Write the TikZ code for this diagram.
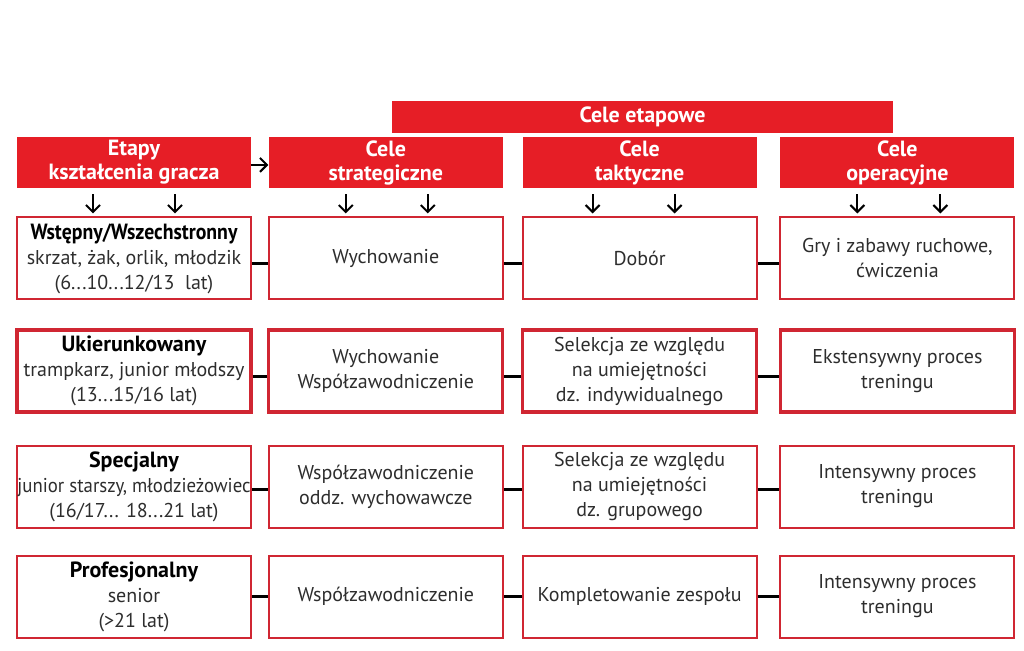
\documentclass[tikz,border=0pt]{standalone}
\usepackage{fontspec}
\setmainfont{PT Sans}
\usepackage{xcolor}
\usepackage{tikz}
\usetikzlibrary{arrows.meta, positioning}

\definecolor{celered}{RGB}{230,30,38}
\definecolor{celeframe}{RGB}{208,38,50}
\definecolor{celetext}{RGB}{45,45,45}
\newcommand{\stagename}[1]{\textcolor{black}{\fontsize{11}{12.5}\selectfont\bfseries #1}}

\begin{document}
\begin{tikzpicture}[x=0.5pt, y=-0.5pt, >={Straight Barb[length=3.5pt,width=7pt,line width=1pt]}]
    \tikzstyle{head} = [rectangle, fill=celered, text=white, font=\bfseries\fontsize{11}{12}\selectfont, minimum width=117pt, minimum height=25.5pt, align=center, inner sep=0pt]
    \tikzstyle{stage} = [rectangle, draw=celeframe, line width=1pt, text=celetext, font=\fontsize{10}{12.5}\selectfont, minimum width=117pt, minimum height=41pt, align=center, inner sep=0pt]
    \tikzstyle{link} = [line width=1.4pt]
    \useasboundingbox (0,0) rectangle (1024,650);

    % Headers
    \node (etapowe) [head, minimum width=250.5pt, minimum height=16pt] at (642.5,117) {Cele etapowe};
    \node (etapy) [head] at (134,162.5) {Etapy\\kształcenia gracza};
    \node (strat) [head, right=8.5pt of etapy] {Cele\\strategiczne};
    \node (takt) [head, right=9.5pt of strat] {Cele\\taktyczne};
    \node (oper) [head, right=11.5pt of takt] {Cele\\operacyjne};

    % Row 1
    \node (wstep) [stage, below=14pt of etapy] {\stagename{\scalebox{0.9}[1]{Wstępny/Wszechstronny}}\\skrzat, żak, orlik, młodzik\\(6...10...12/13\ \ lat)};
    \node (wych) [stage, below=14pt of strat] {Wychowanie};
    \node (dobor) [stage, below=14pt of takt] {Dobór};
    \node (gry) [stage, below=14pt of oper] {Gry i zabawy ruchowe,\\ćwiczenia};

    % Row 2 (heavier frames)
    \node (ukier) [stage, line width=1.6pt, below=14pt of wstep] {\stagename{Ukierunkowany}\\trampkarz, junior młodszy\\(13...15/16 lat)};
    \node (wychwsp) [stage, line width=1.6pt, below=14pt of wych] {Wychowanie\\Współzawodniczenie};
    \node (selind) [stage, line width=1.6pt, below=14pt of dobor] {Selekcja ze względu\\na umiejętności\\dz. indywidualnego};
    \node (ekst) [stage, line width=1.6pt, below=14pt of gry] {Ekstensywny proces\\treningu};

    % Row 3
    \node (spec) [stage, below=15.5pt of ukier] {\stagename{Specjalny}\\\scalebox{0.94}[1]{junior starszy, młodzieżowiec}\\(16/17... 18...21 lat)};
    \node (wspoddz) [stage, below=15.5pt of wychwsp] {Współzawodniczenie\\oddz. wychowawcze};
    \node (selgrup) [stage, below=15.5pt of selind] {Selekcja ze względu\\na umiejętności\\dz. grupowego};
    \node (intens) [stage, below=15.5pt of ekst] {Intensywny proces\\treningu};

    % Row 4
    \node (prof) [stage, below=13pt of spec] {\stagename{Profesjonalny}\\senior\\(>21 lat)};
    \node (wsp) [stage, below=13pt of wspoddz] {Współzawodniczenie};
    \node (kompl) [stage, below=13pt of selgrup] {Kompletowanie zespołu};
    \node (intsen) [stage, below=13pt of intens] {Intensywny proces\\treningu};

    % Arrows from the headers
    \draw[->, line width=1pt] ([yshift=-1.2pt]etapy.east) -- ([yshift=-1.2pt]strat.west);
    \foreach \h/\b/\l/\r in {etapy/wstep/-20.5/20.5, strat/wych/-20/21, takt/dobor/-23.5/17.5, oper/gry/-20/21.5} {
        \draw[->, line width=1pt] ([xshift=\l, yshift=-3pt]\h.south) -- ([xshift=\l, yshift=1.5pt]\b.north);
        \draw[->, line width=1pt] ([xshift=\r, yshift=-3pt]\h.south) -- ([xshift=\r, yshift=1.5pt]\b.north);
    }

    % Row links
    \foreach \a/\b/\s in {wstep/wych/-2.5, wych/dobor/-2.5, dobor/gry/-2.5,
                          ukier/wychwsp/-2.75, wychwsp/selind/-2.75, selind/ekst/-2.75,
                          spec/wspoddz/-1.5, wspoddz/selgrup/-1.5, selgrup/intens/-1.5,
                          prof/wsp/0, wsp/kompl/0, kompl/intsen/0}
        \draw[link] ([yshift=\s]\a.east) -- ([yshift=\s]\b.west);
\end{tikzpicture}
\end{document}
